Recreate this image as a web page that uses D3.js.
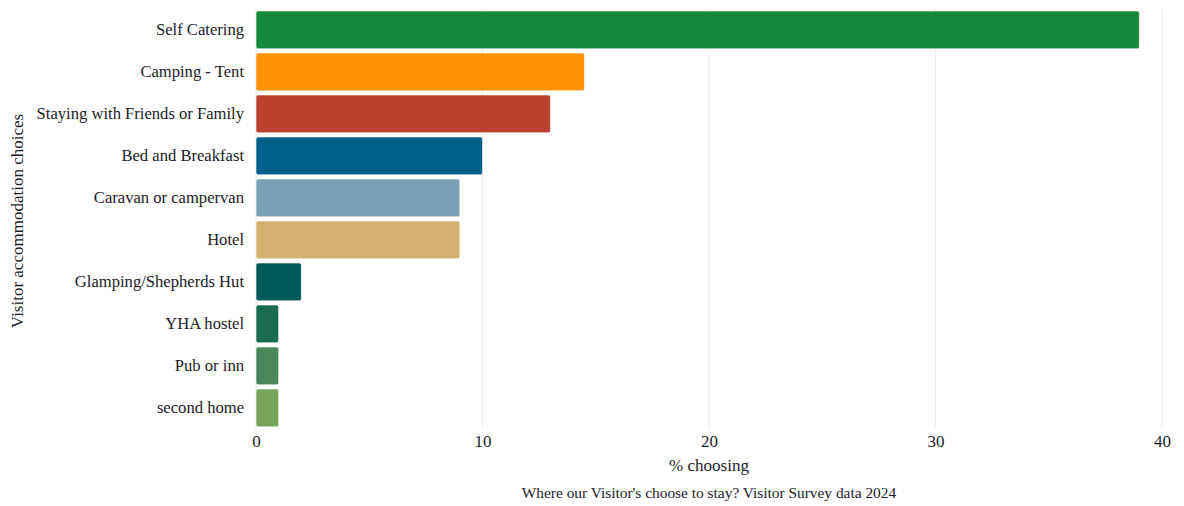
<!DOCTYPE html>
<html><head><meta charset="utf-8">
<script src="https://cdn.jsdelivr.net/npm/d3@7"></script>
<style>
body{margin:0;background:#fff;}
svg text{font-family:"Liberation Serif","DejaVu Serif",serif;fill:#1b1b2a;}
</style></head>
<body><svg id="c" width="1184" height="506"></svg>
<script>
const categories = ["Self Catering","Camping - Tent","Staying with Friends or Family","Bed and Breakfast","Caravan or campervan","Hotel","Glamping/Shepherds Hut","YHA hostel","Pub or inn","second home"];
const values = [39,14.5,13,10,9,9,2,1,1,1];
const colors = ["#168a3a","#fe9200","#b9412d","#005f86","#78a0b6","#d4b073","#00595a","#1b6b53","#4a875c","#78a35a"];
const xTicks = [0,10,20,30,40];
const xTitle = "% choosing";
const yTitle = "Visitor accommodation choices";
const caption = "Where our Visitor's choose to stay? Visitor Survey data 2024";

(function(){
const svg = d3.select("#c");
const mLeft = 256, mRight = 1162, mTop = 8.9, mBottom = 428.9;
const x = d3.scaleLinear().domain([0,40]).range([mLeft,mRight]);
const y = d3.scaleBand().domain(categories).range([mTop,mBottom]).paddingInner(0.1).paddingOuter(0.05);

svg.append("g").selectAll("line").data(xTicks).join("line")
  .attr("x1",d=>x(d)).attr("x2",d=>x(d)).attr("y1",mTop).attr("y2",mBottom)
  .attr("stroke","#ececec").attr("stroke-width",1);

svg.append("g").selectAll("rect").data(categories).join("rect")
  .attr("x",x(0)).attr("y",d=>y(d)).attr("height",y.bandwidth())
  .attr("width",(d,i)=>x(values[i])-x(0))
  .attr("rx",2).attr("fill",(d,i)=>colors[i])
  .attr("stroke","#fff").attr("stroke-width",0.6);

const xa = svg.append("g").attr("transform",`translate(0,${mBottom})`)
  .call(d3.axisBottom(x).tickValues(xTicks).tickSize(0).tickPadding(0));
xa.select(".domain").remove();
xa.selectAll("text").attr("dy",null).attr("y",18).attr("font-size",17).attr("font-family","Liberation Serif").attr("fill","#1b1b2a");

const ya = svg.append("g").attr("transform",`translate(${mLeft},0)`)
  .call(d3.axisLeft(y).tickSize(0).tickPadding(12));
ya.select(".domain").remove();
ya.selectAll("text").attr("font-size",16.6).attr("font-family","Liberation Serif").attr("fill","#1b1b2a");

svg.append("text").attr("x",(mLeft+mRight)/2).attr("y",471).attr("text-anchor","middle")
  .attr("font-size",17).text(xTitle);
svg.append("text").attr("transform",`translate(23,221) rotate(-90)`)
  .attr("text-anchor","middle").attr("font-size",17).text(yTitle);
svg.append("text").attr("x",(mLeft+mRight)/2).attr("y",498).attr("text-anchor","middle")
  .attr("font-size",15.4).text(caption);
})();
</script></body></html>
